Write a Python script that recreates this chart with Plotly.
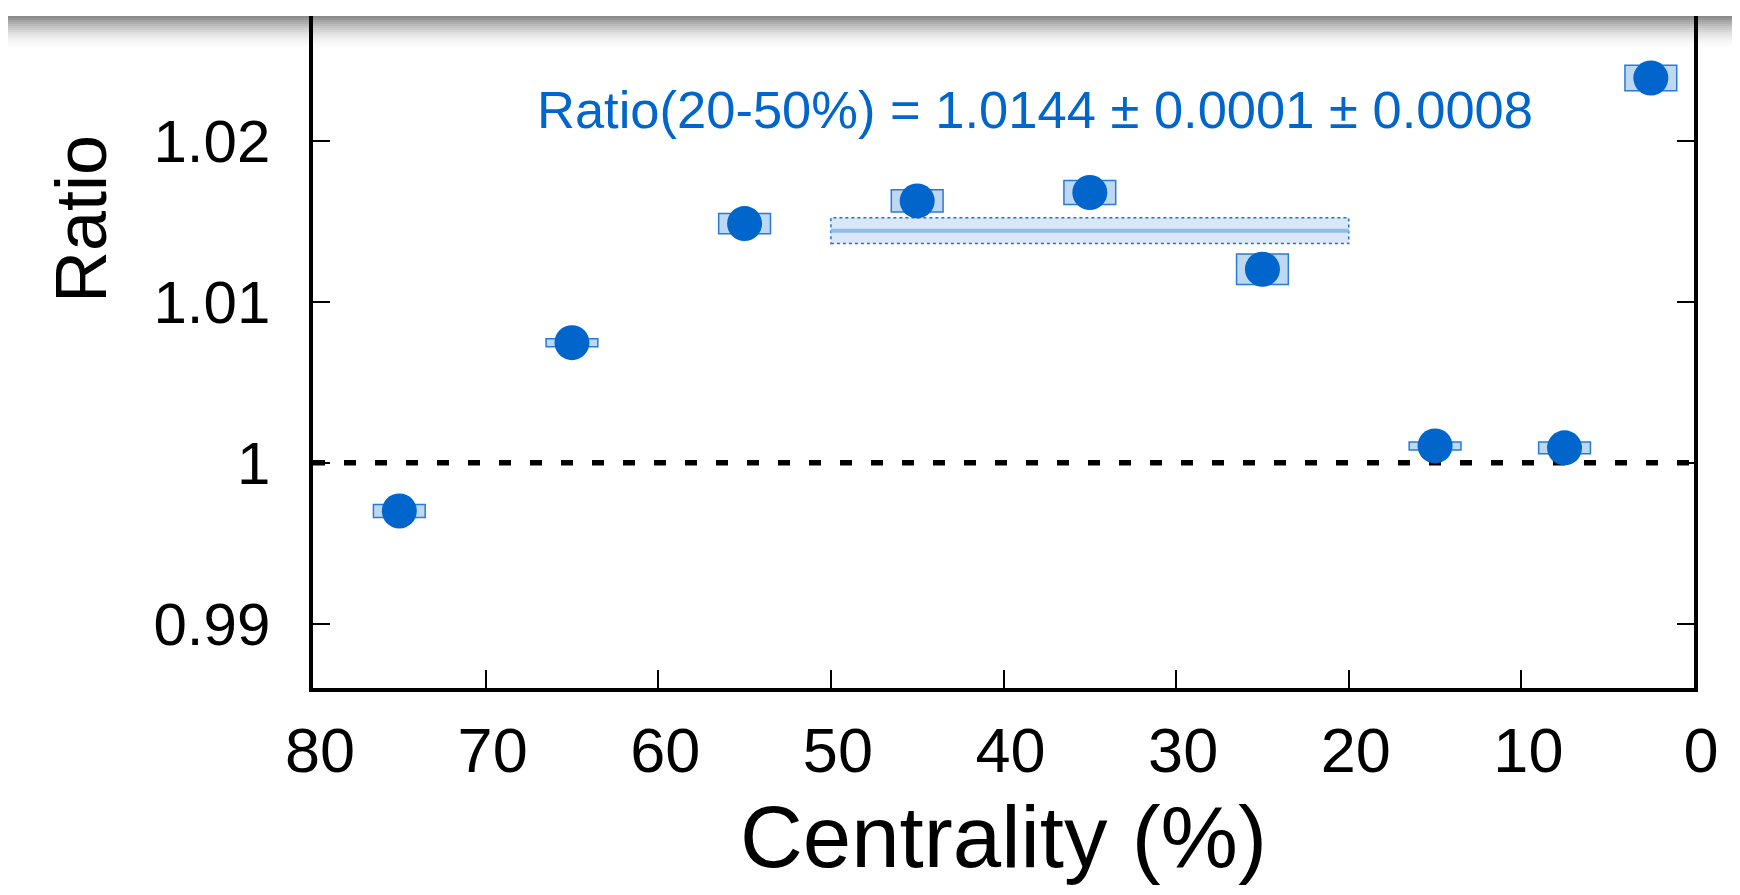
import plotly.graph_objects as go

# ---- data ----
centrality = [75, 65, 55, 45, 35, 25, 15, 7.5, 2.5]
ratio = [0.9970, 1.00745, 1.01484, 1.01625, 1.01677, 1.01201, 1.00104, 1.00092, 1.02388]
sys_err = [0.00040, 0.00025, 0.00063, 0.00069, 0.00075, 0.00095, 0.00025, 0.00037, 0.00079]
stat_err = [0.0001, 0.0001, 0.0001, 0.0001, 0.0001, 0.0001, 0.0001, 0.0001, 0.0001]

fit_range = [50, 20]
fit_value = 1.0144
fit_stat = 0.0001
fit_sys = 0.0008

x_ticks = [80, 70, 60, 50, 40, 30, 20, 10, 0]
y_ticks = [0.99, 1.0, 1.01, 1.02]
y_ticktext = ["0.99", "1", "1.01", "1.02"]

# ---- style ----
FONT = "Liberation Sans, Arial, Helvetica, sans-serif"
BLUE = "rgb(0,102,204)"
BOX_FILL = "rgb(190,216,242)"
BOX_LINE = "rgb(40,122,216)"
BAND_FILL = "rgb(216,232,248)"
BAND_LINE = "rgb(30,112,212)"
BAND_CENTER = "rgb(143,189,233)"
BOX_HALF = 1.5

W, H = 1740, 895
ML, MR, MT, MB = 305, 54, 8, 215
plot_w = W - ML - MR
plot_h = H - MT - MB


def px_x(p):
    return (p - ML) / plot_w


def px_y(p):
    return (H - MB - p) / plot_h


fig = go.Figure()

shapes = []
# systematic boxes
for xc, yc, s in zip(centrality, ratio, sys_err):
    shapes.append(dict(type="rect", xref="x", yref="y",
                       x0=xc + BOX_HALF, x1=xc - BOX_HALF, y0=yc - s, y1=yc + s,
                       fillcolor=BOX_FILL, line=dict(color=BOX_LINE, width=1.5),
                       layer="below"))
# fit band
shapes.append(dict(type="rect", xref="x", yref="y",
                   x0=fit_range[0], x1=fit_range[1],
                   y0=fit_value - fit_sys, y1=fit_value + fit_sys,
                   fillcolor=BAND_FILL, line=dict(color=BAND_LINE, width=1.5, dash="dot"),
                   layer="below"))
shapes.append(dict(type="line", xref="x", yref="y",
                   x0=fit_range[0], x1=fit_range[1], y0=fit_value, y1=fit_value,
                   line=dict(color=BAND_CENTER, width=4), layer="below"))
# reference line at 1
shapes.append(dict(type="line", xref="paper", yref="y", x0=0, x1=1, y0=1.0, y1=1.0,
                   line=dict(color="black", width=5.5, dash="12px,19px"), layer="below"))

# header shadow (gradient made of thin strips)
n_strips = 17
for i in range(n_strips):
    t = i / n_strips
    op = 0.46 * (1 - t) ** 2
    py0 = MT + 2 * i
    py1 = py0 + 2
    shapes.append(dict(type="rect", xref="paper", yref="paper",
                       x0=px_x(0), x1=px_x(W),
                       y0=px_y(py1), y1=px_y(py0),
                       fillcolor="black", opacity=op, line=dict(width=0), layer="above"))

fig.add_trace(go.Scatter(
    x=centrality, y=ratio, mode="markers",
    marker=dict(size=35, color=BLUE, line=dict(width=0)),
    error_y=dict(type="data", array=stat_err, color=BLUE, thickness=2, width=0),
    showlegend=False, hoverinfo="x+y"))

label = f"Ratio({fit_range[1]}-{fit_range[0]}%) = {fit_value:.4f} \u00b1 {fit_stat:.4f} \u00b1 {fit_sys:.4f}"

annotations = [
    dict(text=label, xref="paper", yref="paper",
         x=px_x(1026.5), y=px_y(102),
         xanchor="center", yanchor="middle", showarrow=False,
         font=dict(family=FONT, size=52.5, color=BLUE)),
    dict(text="Centrality (%)", xref="paper", yref="paper",
         x=0.5, y=px_y(828), xanchor="center", yanchor="middle",
         showarrow=False, font=dict(family=FONT, size=87, color="black")),
    dict(text="Ratio", xref="paper", yref="paper",
         x=px_x(73), y=px_y(211),
         xanchor="center", yanchor="middle", textangle=-90,
         showarrow=False, font=dict(family=FONT, size=72, color="black")),
]

fig.update_layout(
    width=W, height=H,
    margin=dict(l=ML, r=MR, t=MT, b=MB, pad=0),
    paper_bgcolor="white", plot_bgcolor="white",
    shapes=shapes, annotations=annotations,
    showlegend=False,
    xaxis=dict(range=[80, 0], tickvals=x_ticks, ticks="inside", ticklen=18,
               tickwidth=1.5, tickcolor="black", showline=True, linecolor="black",
               linewidth=3.5, mirror=False, showgrid=False, zeroline=False,
               tickfont=dict(family=FONT, size=63, color="black"),
               ticklabelshift=-7, ticklabelstandoff=5),
    yaxis=dict(range=[0.98601, 1.02773], tickvals=y_ticks, ticktext=y_ticktext,
               ticks="inside", ticklen=17, tickwidth=1.5, tickcolor="black",
               showline=True, linecolor="black", linewidth=3.5, mirror="ticks",
               showgrid=False, zeroline=False,
               tickfont=dict(family=FONT, size=60, color="black"),
               ticklabelstandoff=27),
)

fig.write_html("out.html")
